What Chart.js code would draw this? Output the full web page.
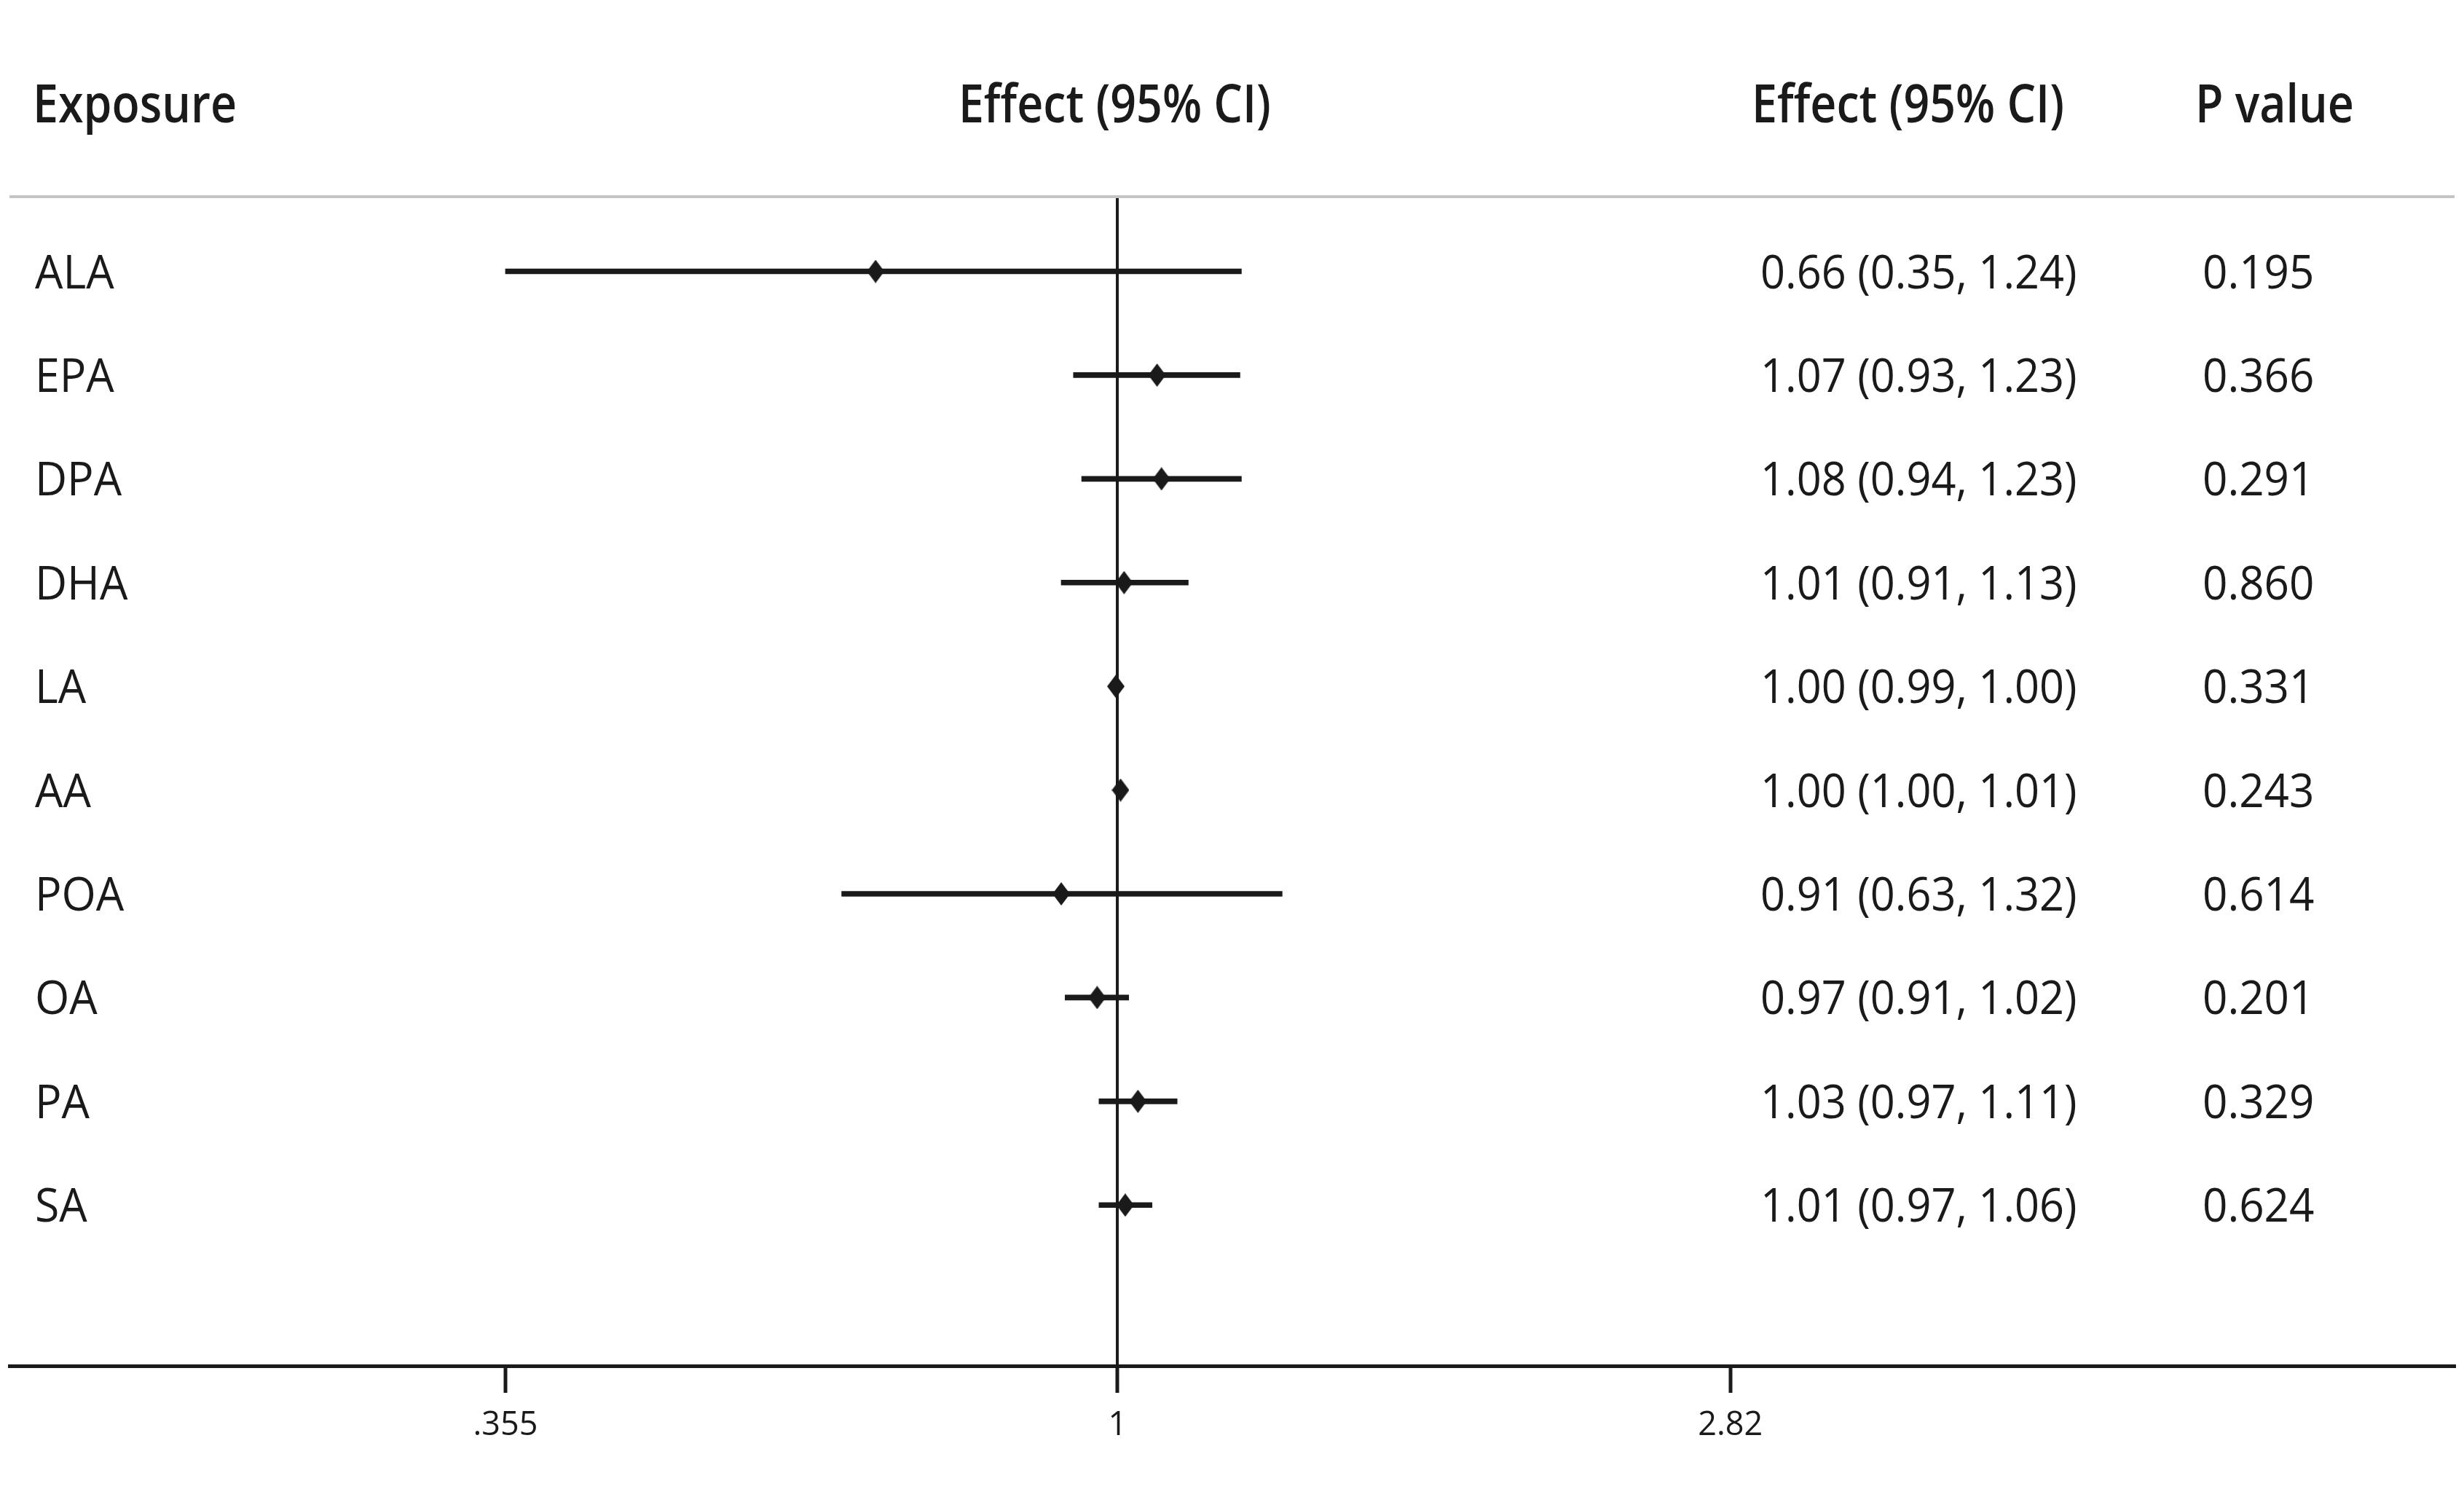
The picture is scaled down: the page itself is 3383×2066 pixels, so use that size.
<!DOCTYPE html>
<html>
<head>
<meta charset="utf-8">
<title>Forest plot</title>
<script src="https://cdn.jsdelivr.net/npm/chart.js@4.4.1/dist/chart.umd.min.js"></script>
<style>
  html, body { margin: 0; padding: 0; background: #fff; }
  #wrap { width: 3383px; height: 2066px; position: relative; }
</style>
</head>
<body>
<div id="wrap"><canvas id="forest"></canvas></div>
<script>
// row data
var exposures = ["ALA", "EPA", "DPA", "DHA", "LA", "AA", "POA", "OA", "PA", "SA"];
var estimates = [0.664, 1.069, 1.077, 1.011, 0.997, 1.005, 0.909, 0.966, 1.035, 1.013];
var lowerCI = [0.355, 0.928, 0.941, 0.909, 0.990, 1.000, 0.627, 0.915, 0.969, 0.969];
var upperCI = [1.233, 1.230, 1.233, 1.127, 1.000, 1.010, 1.321, 1.019, 1.106, 1.060];
var effectText = ["0.66 (0.35, 1.24)", "1.07 (0.93, 1.23)", "1.08 (0.94, 1.23)", "1.01 (0.91, 1.13)",
  "1.00 (0.99, 1.00)", "1.00 (1.00, 1.01)", "0.91 (0.63, 1.32)", "0.97 (0.91, 1.02)",
  "1.03 (0.97, 1.11)", "1.01 (0.97, 1.06)"];
var pValues = ["0.195", "0.366", "0.291", "0.860", "0.331", "0.243", "0.614", "0.201", "0.329", "0.624"];
var tickValues = [0.355, 1, 2.82];
var tickLabels = [".355", "1", "2.82"];
var headers = ["Exposure", "Effect (95% CI)", "Effect (95% CI)", "P value"];

var ink = "#1a1a1a";

// tall diamond marker
var diamond = document.createElement("canvas");
diamond.width = 24;
diamond.height = 32;
var dctx = diamond.getContext("2d");
dctx.fillStyle = ink;
dctx.beginPath();
dctx.moveTo(12, 0);
dctx.lineTo(24, 16);
dctx.lineTo(12, 32);
dctx.lineTo(0, 16);
dctx.closePath();
dctx.fill();

// draws text squeezed a bit horizontally (the original font is narrow)
function drawText(ctx, s, x, y, font, sx, align) {
  ctx.save();
  ctx.font = font;
  ctx.fillStyle = ink;
  ctx.textAlign = align;
  ctx.textBaseline = "alphabetic";
  ctx.translate(x, y);
  ctx.scale(sx, 1);
  ctx.fillText(s, 0, 0);
  ctx.restore();
}

var tablePlugin = {
  id: "tablePlugin",
  afterDraw: function (chart) {
    var ctx = chart.ctx;
    var area = chart.chartArea;
    var xs = chart.scales.x;
    var ys = chart.scales.y;
    var bold = "600 72px 'Open Sans'";
    var reg = "64px 'Open Sans'";

    // header row
    drawText(ctx, headers[0], 45, 168, bold, 0.87, "left");
    drawText(ctx, headers[1], xs.getPixelForValue(1) - 4, 168, bold, 0.87, "center");
    drawText(ctx, headers[2], 2405, 168, bold, 0.87, "left");
    drawText(ctx, headers[3], 3014, 168, bold, 0.87, "left");

    // grey rule under header
    ctx.save();
    ctx.strokeStyle = "#c4c4c4";
    ctx.lineWidth = 4;
    ctx.beginPath();
    ctx.moveTo(area.left, area.top);
    ctx.lineTo(area.right, area.top);
    ctx.stroke();
    ctx.restore();

    for (var i = 0; i < exposures.length; i++) {
      var y = ys.getPixelForValue(i + 1) + 23;
      drawText(ctx, exposures[i], 48, y, reg, 0.95, "left");
      drawText(ctx, effectText[i], 2417, y, reg, 0.93, "left");
      drawText(ctx, pValues[i], 3024, y, reg, 0.94, "left");
    }
  }
};

new Chart(document.getElementById("forest"), {
  type: "scatter",
  data: {
    datasets: [
      {
        type: "scatter",
        data: estimates.map(function (v, i) { return { x: v, y: i + 1 }; }),
        pointStyle: diamond,
        pointRadius: 12
      },
      {
        type: "bar",
        indexAxis: "y",
        data: exposures.map(function (e, i) { return { x: [lowerCI[i], upperCI[i]], y: i + 1 }; }),
        backgroundColor: ink,
        borderWidth: 0,
        barThickness: 7
      }
    ]
  },
  options: {
    responsive: true,
    maintainAspectRatio: false,
    animation: false,
    devicePixelRatio: 1,
    layout: { padding: { top: 270, left: 11, right: 11, bottom: 0 } },
    plugins: { legend: { display: false }, tooltip: { enabled: false } },
    scales: {
      x: {
        type: "logarithmic",
        min: 0.1534,
        max: 9.60,
        offset: false,
        afterBuildTicks: function (scale) {
          scale.ticks = tickValues.map(function (v) { return { value: v }; });
        },
        afterFit: function (scale) { scale.height = 191; },
        ticks: {
          autoSkip: false,
          maxRotation: 0,
          padding: 18,
          color: ink,
          font: { family: "'Open Sans'", size: 45 },
          callback: function (value, index) { return tickLabels[index]; }
        },
        grid: {
          offset: false,
          drawOnChartArea: true,
          color: function (c) { return c.tick && c.tick.value === 1 ? ink : "rgba(0,0,0,0)"; },
          lineWidth: 4,
          tickColor: ink,
          tickLength: 37,
          tickWidth: 5
        },
        border: { display: true, color: ink, width: 5 }
      },
      y: {
        type: "linear",
        display: false,
        reverse: true,
        offset: false,
        grid: { offset: false },
        min: 0.28,
        max: 11.55
      }
    }
  },
  plugins: [tablePlugin]
});
</script>
</body>
</html>
